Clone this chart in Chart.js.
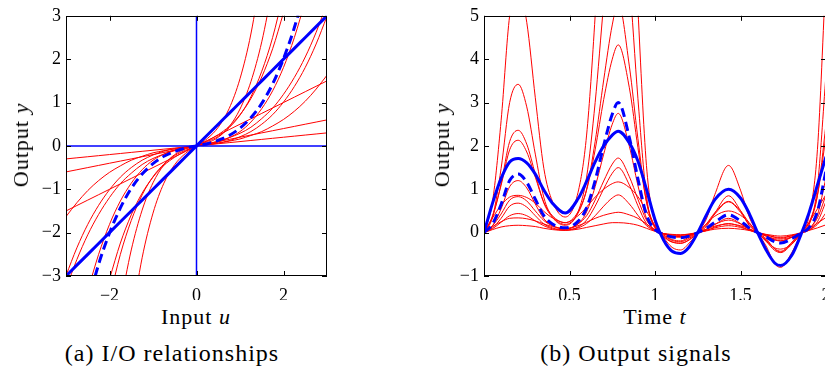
<!DOCTYPE html>
<html>
<head>
<meta charset="utf-8">
<script src="https://cdn.jsdelivr.net/npm/chart.js@4.4.1/dist/chart.umd.min.js"></script>
<style>
  html, body { margin: 0; padding: 0; overflow: hidden; background: #fff; }
  #wrap { position: relative; width: 825px; height: 372px; overflow: hidden; }
  canvas { position: absolute; top: 0; }
  .lbl { position: absolute; font-family: "Liberation Serif", "DejaVu Serif", serif; font-size: 22px; letter-spacing: 1px; color: #000; white-space: nowrap; transform: translate(-50%, -50%); }
  .rot { transform: translate(-50%, -50%) rotate(-90deg); }
  .cap { font-size: 24px; }
</style>
</head>
<body>
<div id="wrap">
  <canvas id="ioChart" width="340" height="300" style="left:0"></canvas>
  <canvas id="sigChart" width="420" height="300" style="left:420px"></canvas>
  <div class="lbl rot" style="left:21px;top:145px">Output <i>y</i></div>
  <div class="lbl" style="left:196px;top:317px">Input <i>u</i></div>
  <div class="lbl cap" style="left:172px;top:353px">(a) I/O relationships</div>
  <div class="lbl rot" style="left:442px;top:145px">Output <i>y</i></div>
  <div class="lbl" style="left:655px;top:317px">Time <i>t</i></div>
  <div class="lbl cap" style="left:636px;top:353px">(b) Output signals</div>
</div>
<script>
// (a) input values and static nonlinearities
const uVals = [-3, -2.75, -2.5, -2.25, -2, -1.75, -1.5, -1.25, -1, -0.75, -0.5, -0.25, 0, 0.25, 0.5, 0.75, 1, 1.25, 1.5, 1.75, 2, 2.25, 2.5, 2.75, 3];
const ioIdentity = [-3, -2.75, -2.5, -2.25, -2, -1.75, -1.5, -1.25, -1, -0.75, -0.5, -0.25, 0, 0.25, 0.5, 0.75, 1, 1.25, 1.5, 1.75, 2, 2.25, 2.5, 2.75, 3];
const ioDashed = [null, null, -3.63, -2.73, -2.01, -1.43, -0.98, -0.65, -0.41, -0.24, -0.13, -0.05, 0, 0.05, 0.13, 0.24, 0.41, 0.65, 0.98, 1.43, 2.01, 2.73, 3.63, null, null];
const ioRed = [
  [-0.3, -0.275, -0.25, -0.225, -0.2, -0.175, -0.15, -0.125, -0.1, -0.075, -0.05, -0.025, 0, 0.025, 0.05, 0.075, 0.1, 0.125, 0.15, 0.175, 0.2, 0.225, 0.25, 0.275, 0.3],
  [-0.6, -0.55, -0.5, -0.45, -0.4, -0.35, -0.3, -0.25, -0.2, -0.15, -0.1, -0.05, 0, 0.05, 0.1, 0.15, 0.2, 0.25, 0.3, 0.35, 0.4, 0.45, 0.5, 0.55, 0.6],
  [-1.5, -1.375, -1.25, -1.125, -1, -0.875, -0.75, -0.625, -0.5, -0.375, -0.25, -0.125, 0, 0.125, 0.25, 0.375, 0.5, 0.625, 0.75, 0.875, 1, 1.125, 1.25, 1.375, 1.5],
  [null, null, null, null, null, null, -4.05, -2.58, -1.55, -0.86, -0.43, -0.17, 0, 0.17, 0.43, 0.86, 1.55, 2.58, 4.05, null, null, null, null, null, null],
  [null, null, null, null, null, -3.65, -2.40, -1.48, -0.85, -0.44, -0.20, -0.07, 0, 0.07, 0.20, 0.44, 0.85, 1.48, 2.40, 3.65, null, null, null, null, null],
  [null, null, null, null, -3.52, -2.50, -1.72, -1.13, -0.71, -0.42, -0.22, -0.10, 0, 0.10, 0.22, 0.42, 0.71, 1.13, 1.72, 2.50, 3.52, null, null, null, null],
  [null, null, null, null, -3.07, -2.24, -1.59, -1.09, -0.72, -0.45, -0.26, -0.12, 0, 0.12, 0.26, 0.45, 0.72, 1.09, 1.59, 2.24, 3.07, null, null, null, null],
  [null, null, -3.34, -2.50, -1.81, -1.27, -0.86, -0.55, -0.33, -0.19, -0.09, -0.04, 0, 0.04, 0.09, 0.19, 0.33, 0.55, 0.86, 1.27, 1.81, 2.50, 3.34, null, null],
  [-3.29, -2.62, -2.05, -1.58, -1.19, -0.87, -0.63, -0.43, -0.29, -0.19, -0.11, -0.05, 0, 0.05, 0.11, 0.19, 0.29, 0.43, 0.63, 0.87, 1.19, 1.58, 2.05, 2.62, 3.29],
  [-2.99, -2.35, -1.81, -1.37, -1.01, -0.72, -0.50, -0.33, -0.21, -0.12, -0.07, -0.03, 0, 0.03, 0.07, 0.12, 0.21, 0.33, 0.50, 0.72, 1.01, 1.37, 1.81, 2.35, 2.99],
  [-1.63, -1.31, -1.03, -0.80, -0.61, -0.46, -0.33, -0.24, -0.16, -0.11, -0.06, -0.03, 0, 0.03, 0.06, 0.11, 0.16, 0.24, 0.33, 0.46, 0.61, 0.80, 1.03, 1.31, 1.63]
];
const ioXTicks = [-2, 0, 2];
const ioYTicks = [-3, -2, -1, 0, 1, 2, 3];

// (b) time values and output signals
const tVals = [0, 0.05, 0.1, 0.15, 0.2, 0.25, 0.3, 0.35, 0.4, 0.475, 0.55, 0.6, 0.65, 0.7, 0.75, 0.785, 0.85, 0.9, 0.95, 1, 1.05, 1.1, 1.15, 1.2, 1.25, 1.3, 1.35, 1.43, 1.5, 1.55, 1.6, 1.65, 1.7, 1.735, 1.8, 1.85, 1.9, 1.95, 2];
const sigSolid = [0, 0.68, 1.25, 1.63, 1.71, 1.61, 1.35, 0.98, 0.68, 0.45, 0.78, 1.18, 1.63, 2.00, 2.25, 2.34, 2.07, 1.65, 1.00, 0.30, -0.17, -0.43, -0.48, -0.33, 0, 0.40, 0.76, 1.00, 0.80, 0.45, 0, -0.40, -0.70, -0.76, -0.52, -0.08, 0.45, 1.10, 1.75];
const sigDashed = [0, 0.20, 0.65, 1.20, 1.35, 1.16, 0.77, 0.39, 0.20, 0.11, 0.26, 0.57, 1.20, 2.01, 2.73, 3.00, 2.19, 1.24, 0.41, 0.07, -0.04, -0.10, -0.12, -0.08, 0, 0.10, 0.24, 0.41, 0.27, 0.11, 0, -0.10, -0.21, -0.24, -0.14, -0.02, 0.11, 0.49, 1.43];
const sigRed = [
  [0, 0.07, 0.13, 0.16, 0.17, 0.16, 0.14, 0.10, 0.07, 0.05, 0.08, 0.12, 0.16, 0.20, 0.23, 0.23, 0.21, 0.17, 0.10, 0.03, -0.02, -0.04, -0.05, -0.03, 0, 0.04, 0.08, 0.10, 0.08, 0.05, 0, -0.04, -0.07, -0.08, -0.05, -0.01, 0.05, 0.11, 0.18],
  [0, 0.14, 0.25, 0.33, 0.34, 0.32, 0.27, 0.20, 0.14, 0.09, 0.16, 0.24, 0.33, 0.40, 0.45, 0.47, 0.41, 0.33, 0.20, 0.06, -0.03, -0.09, -0.10, -0.07, 0, 0.08, 0.15, 0.20, 0.16, 0.09, 0, -0.08, -0.14, -0.15, -0.10, -0.02, 0.09, 0.22, 0.35],
  [0, 0.34, 0.63, 0.82, 0.86, 0.81, 0.68, 0.49, 0.34, 0.23, 0.39, 0.59, 0.82, 1.00, 1.13, 1.17, 1.04, 0.83, 0.50, 0.15, -0.09, -0.22, -0.24, -0.17, 0, 0.20, 0.38, 0.50, 0.40, 0.23, 0, -0.20, -0.35, -0.38, -0.26, -0.04, 0.23, 0.55, 0.88],
  [0, 0.72, 2.58, 5.00, 5.67, 4.85, 3.11, 1.48, 0.72, 0.36, 0.93, 2.25, 5.00, 8.61, 11.88, 13.2, 9.45, 5.17, 1.55, 0.21, -0.11, -0.34, -0.40, -0.24, 0, 0.31, 0.88, 1.55, 0.98, 0.37, 0, -0.31, -0.72, -0.80, -0.46, -0.05, 0.37, 1.92, 6.03],
  [0, 0.36, 1.48, 3.00, 3.42, 2.90, 1.81, 0.81, 0.36, 0.17, 0.48, 1.28, 3.00, 5.29, 7.38, 8.2, 5.83, 3.10, 0.85, 0.09, -0.05, -0.16, -0.19, -0.10, 0, 0.14, 0.45, 0.85, 0.51, 0.17, 0, -0.14, -0.38, -0.45, -0.22, -0.02, 0.17, 1.07, 3.65],
  [0, 0.36, 1.13, 2.10, 2.36, 2.04, 1.35, 0.68, 0.36, 0.19, 0.45, 1.00, 2.10, 3.52, 4.79, 5.3, 3.84, 2.17, 0.71, 0.12, -0.06, -0.18, -0.21, -0.13, 0, 0.17, 0.43, 0.71, 0.47, 0.19, 0, -0.17, -0.37, -0.43, -0.24, -0.03, 0.19, 0.86, 2.50],
  [0, 0.39, 1.09, 1.91, 2.13, 1.86, 1.28, 0.70, 0.39, 0.23, 0.48, 0.98, 1.91, 3.07, 4.00, 4.33, 3.34, 1.96, 0.72, 0.14, -0.08, -0.21, -0.25, -0.16, 0, 0.20, 0.46, 0.72, 0.50, 0.23, 0, -0.20, -0.41, -0.46, -0.27, -0.04, 0.23, 0.86, 2.24],
  [0, 0.16, 0.55, 1.06, 1.20, 1.03, 0.66, 0.32, 0.16, 0.08, 0.20, 0.48, 1.06, 1.81, 2.50, 2.75, 1.99, 1.09, 0.33, 0.05, -0.02, -0.08, -0.09, -0.05, 0, 0.07, 0.19, 0.33, 0.21, 0.08, 0, -0.07, -0.16, -0.19, -0.10, -0.01, 0.08, 0.41, 1.27],
  [0, 0.16, 0.43, 0.75, 0.83, 0.73, 0.50, 0.28, 0.16, 0.09, 0.20, 0.39, 0.75, 1.19, 1.58, 1.72, 1.29, 0.77, 0.29, 0.06, -0.03, -0.09, -0.10, -0.07, 0, 0.08, 0.19, 0.29, 0.20, 0.09, 0, -0.08, -0.17, -0.19, -0.11, -0.02, 0.09, 0.34, 0.87],
  [0, 0.11, 0.33, 0.61, 0.68, 0.59, 0.39, 0.20, 0.11, 0.06, 0.13, 0.29, 0.61, 1.01, 1.37, 1.50, 1.10, 0.62, 0.21, 0.04, -0.02, -0.06, -0.06, -0.04, 0, 0.05, 0.13, 0.21, 0.14, 0.06, 0, -0.05, -0.11, -0.13, -0.07, -0.01, 0.06, 0.25, 0.72],
  [0, 0.09, 0.24, 0.39, 0.44, 0.39, 0.27, 0.16, 0.09, 0.06, 0.11, 0.21, 0.39, 0.61, 0.80, 0.87, 0.66, 0.40, 0.16, 0.04, -0.02, -0.05, -0.06, -0.04, 0, 0.05, 0.11, 0.16, 0.12, 0.06, 0, -0.05, -0.10, -0.11, -0.07, -0.01, 0.06, 0.19, 0.46]
];
const sigXTicks = [0, 0.5, 1, 1.5, 2];
const sigYTicks = [-1, 0, 1, 2, 3, 4, 5];

const RED = "#ff0000";
const BLUE = "#0000ff";
const FONT = { family: "'Liberation Serif', 'DejaVu Serif', serif", size: 18 };

function toPoints(xs, ys) {
  return xs.map((x, i) => ({ x: x, y: ys[i] }));
}

function line(data, color, width, dash, order) {
  return {
    data: data,
    borderColor: color,
    borderWidth: width,
    borderDash: dash || [],
    pointRadius: 0,
    fill: false,
    cubicInterpolationMode: "monotone",
    order: order
  };
}

// box frame with ticks pointing inward, on all four sides
const boxTicks = {
  id: "boxTicks",
  afterDatasetsDraw(chart) {
    const ctx = chart.ctx;
    const a = chart.chartArea;
    const x = chart.scales.x, y = chart.scales.y;
    const len = 5;
    ctx.save();
    ctx.strokeStyle = "#000";
    ctx.lineWidth = 1;
    ctx.beginPath();
    x.ticks.forEach(t => {
      const px = Math.round(x.getPixelForValue(t.value)) + 0.5;
      ctx.moveTo(px, a.bottom); ctx.lineTo(px, a.bottom - len);
      ctx.moveTo(px, a.top); ctx.lineTo(px, a.top + len);
    });
    y.ticks.forEach(t => {
      const py = Math.round(y.getPixelForValue(t.value)) + 0.5;
      ctx.moveTo(a.left, py); ctx.lineTo(a.left + len, py);
      ctx.moveTo(a.right, py); ctx.lineTo(a.right - len, py);
    });
    ctx.stroke();
    ctx.strokeRect(Math.round(a.left) + 0.5, Math.round(a.top) + 0.5, Math.round(a.width) - 1, Math.round(a.height) - 1);
    ctx.restore();
  }
};

function fmt(v) {
  return String(v).replace("-", "\u2212");
}

function axes(xMin, xMax, xTicks, yMin, yMax, yTicks, yWidth) {
  return {
    x: {
      type: "linear", min: xMin, max: xMax,
      grid: { display: false, drawTicks: false },
      border: { display: false },
      afterBuildTicks: s => { s.ticks = xTicks.map(v => ({ value: v })); },
      afterFit: s => { s.height = 24; },
      ticks: { color: "#000", font: FONT, padding: 9, maxRotation: 0, autoSkip: false, callback: v => fmt(v) }
    },
    y: {
      type: "linear", min: yMin, max: yMax,
      grid: { display: false, drawTicks: false },
      border: { display: false },
      afterBuildTicks: s => { s.ticks = yTicks.map(v => ({ value: v })); },
      afterFit: s => { s.width = yWidth; },
      ticks: { color: "#000", font: FONT, padding: 5, autoSkip: false, callback: v => fmt(v) }
    }
  };
}

const commonOpts = {
  responsive: false,
  animation: false,
  devicePixelRatio: 1,
  plugins: { legend: { display: false }, tooltip: { enabled: false } }
};

// (a) I/O relationships
const ioSets = [];
ioSets.push(line(toPoints(uVals, ioIdentity), BLUE, 3, null, 0));
ioSets.push(line(toPoints(uVals, ioDashed), BLUE, 3, [9, 5], 0));
ioSets.push(line([{ x: 0, y: -3 }, { x: 0, y: 3 }], BLUE, 1.5, null, 1));
ioSets.push(line([{ x: -3, y: 0 }, { x: 3, y: 0 }], BLUE, 1.5, null, 1));
ioRed.forEach(r => ioSets.push(line(toPoints(uVals, r), RED, 1, null, 2)));

new Chart(document.getElementById("ioChart"), {
  type: "line",
  data: { datasets: ioSets },
  options: Object.assign({}, commonOpts, {
    layout: { padding: { top: 14, right: 13, left: 0, bottom: 0 } },
    scales: axes(-3, 3, ioXTicks, -3, 3, ioYTicks, 66)
  }),
  plugins: [boxTicks]
});

// (b) Output signals
const sigSets = [];
sigSets.push(line(toPoints(tVals, sigSolid), BLUE, 3, null, 0));
sigSets.push(line(toPoints(tVals, sigDashed), BLUE, 3, [9, 5], 0));
sigRed.forEach(r => sigSets.push(line(toPoints(tVals, r), RED, 1, null, 2)));

new Chart(document.getElementById("sigChart"), {
  type: "line",
  data: { datasets: sigSets },
  options: Object.assign({}, commonOpts, {
    layout: { padding: { top: 14, right: 14, left: 0, bottom: 0 } },
    scales: axes(0, 2, sigXTicks, -1, 5, sigYTicks, 64)
  }),
  plugins: [boxTicks]
});
</script>
</body>
</html>
